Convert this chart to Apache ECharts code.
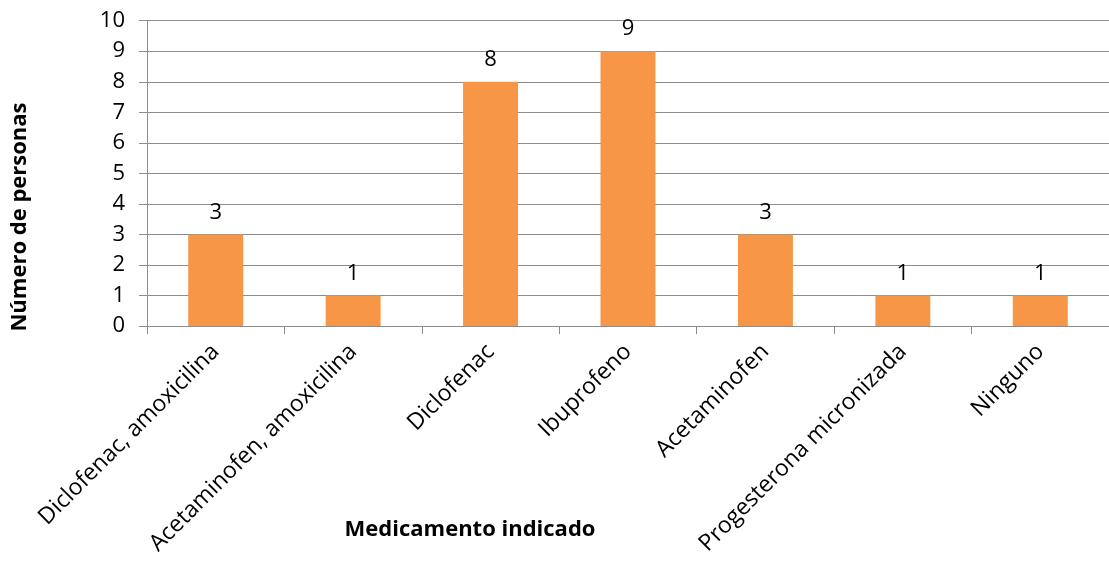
<!DOCTYPE html>
<html>
<head>
<meta charset="utf-8">
<script src="https://cdn.jsdelivr.net/npm/echarts@6/dist/echarts.min.js"></script>
<style>
  html, body { margin: 0; padding: 0; background: #fff; }
  #chart { width: 1109px; height: 562px; }
</style>
</head>
<body>
<div id="chart"></div>
<script>
const medicamentos = ['Diclofenac, amoxicilina', 'Acetaminofen, amoxicilina', 'Diclofenac', 'Ibuprofeno', 'Acetaminofen', 'Progesterona micronizada', 'Ninguno'];
const personas = [3, 1, 8, 9, 3, 1, 1];
const yTicks = { min: 0, max: 10, interval: 1 };
const fontName = 'Open Sans';

const chart = echarts.init(document.getElementById('chart'));

const option = {
    animation: false,
    textStyle: { fontFamily: fontName },
    grid: {
        left: 147,
        right: -6,
        top: 20.7,
        bottom: 236,
        containLabel: false
    },
    xAxis: {
        type: 'category',
        data: medicamentos,
        boundaryGap: true,
        axisLine: { lineStyle: { color: '#8c8c8c', width: 1 } },
        axisTick: { show: true, length: 8, lineStyle: { color: '#8c8c8c' } },
        axisLabel: {
            rotate: 45,
            interval: 0,
            fontSize: 23,
            color: '#000',
            margin: 22,
            fontFamily: fontName
        }
    },
    yAxis: {
        type: 'value',
        min: yTicks.min,
        max: yTicks.max,
        interval: yTicks.interval,
        axisLine: { show: true, lineStyle: { color: '#8c8c8c', width: 1 } },
        axisTick: { show: true, length: 8, lineStyle: { color: '#8c8c8c' } },
        axisLabel: { fontSize: 22, color: '#000', margin: 22, fontFamily: fontName },
        splitLine: { show: true, lineStyle: { color: '#8c8c8c', width: 1 } }
    },
    series: [{
        type: 'bar',
        data: personas,
        barWidth: '40%',
        itemStyle: { color: '#F79646' },
        label: {
            show: true,
            position: 'top',
            distance: 11,
            fontSize: 22,
            color: '#000',
            fontFamily: fontName
        }
    }],
    graphic: [
        {
            type: 'text',
            x: 470,
            y: 530,
            style: {
                text: 'Medicamento indicado',
                font: 'bold 22px "Open Sans"',
                fill: '#000',
                align: 'center',
                verticalAlign: 'middle'
            }
        },
        {
            type: 'text',
            x: 20,
            y: 217,
            rotation: Math.PI / 2,
            style: {
                text: 'Número de personas',
                font: 'bold 22px "Open Sans"',
                fill: '#000',
                align: 'center',
                verticalAlign: 'middle'
            }
        }
    ]
};

chart.setOption(option);
</script>
</body>
</html>
